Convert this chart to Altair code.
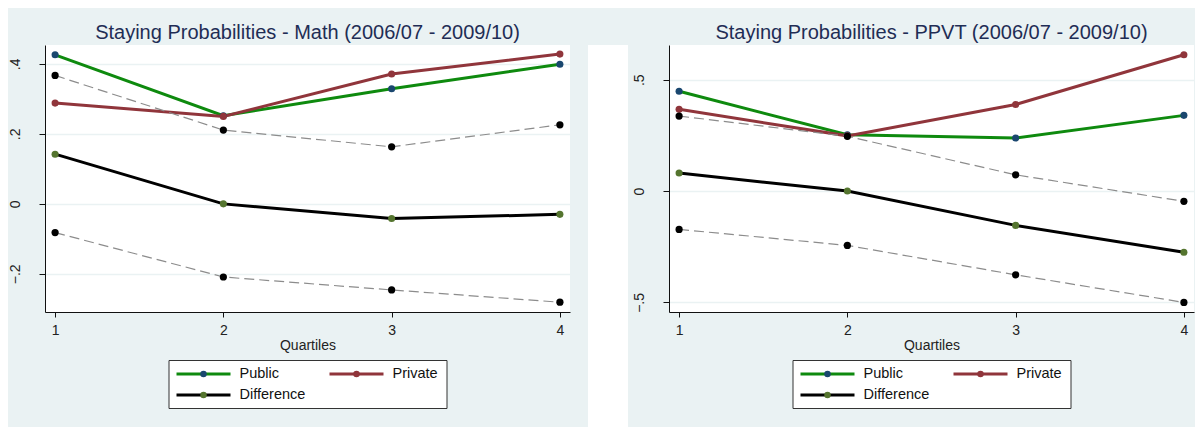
import altair as alt
import pandas as pd

# quartile positions on the x axis
quartiles = [1, 2, 3, 4]
series_names = ["Public", "Private", "Difference"]

# Math panel
math_public = [0.426, 0.252, 0.329, 0.399]
math_private = [0.288, 0.250, 0.371, 0.428]
math_diff = [0.142, 0.000, -0.042, -0.030]
math_upper = [0.367, 0.211, 0.163, 0.226]
math_lower = [-0.082, -0.209, -0.246, -0.281]
math_ticks = [-0.2, 0, 0.2, 0.4]
math_domain = [-0.309, 0.454]

# PPVT panel
ppvt_public = [0.448, 0.253, 0.238, 0.340]
ppvt_private = [0.367, 0.248, 0.389, 0.612]
ppvt_diff = [0.081, 0.000, -0.154, -0.275]
ppvt_upper = [0.337, 0.246, 0.073, -0.046]
ppvt_lower = [-0.172, -0.244, -0.376, -0.500]
ppvt_ticks = [-0.5, 0, 0.5]
ppvt_domain = [-0.543, 0.656]

line_colors = ["#0E8A0E", "#90353B", "#000000"]
marker_colors = ["#1A476F", "#90353B", "#55752F"]
BG = "#EAF2F3"
FONT = "Liberation Sans"

color = alt.Color("Series:N", scale=alt.Scale(domain=series_names, range=line_colors), legend=None)
fill = alt.Fill("Series:N", scale=alt.Scale(domain=series_names, range=marker_colors), legend=None)


def panel(subject, public, private, diff, upper, lower, ticks, domain):
    main = pd.DataFrame({
        "Quartile": quartiles * 3,
        "Series": [s for s in series_names for _ in quartiles],
        "Value": public + private + diff,
    })
    band = pd.DataFrame({
        "Quartile": quartiles * 2,
        "Bound": ["upper"] * len(quartiles) + ["lower"] * len(quartiles),
        "Value": upper + lower,
    })

    x = alt.X("Quartile:Q", title="Quartiles",
              scale=alt.Scale(domain=[0.94, 4.06], nice=False, zero=False),
              axis=alt.Axis(values=quartiles, format="d", grid=False, tickSize=5,
                            labelPadding=6, titlePadding=1))
    y = alt.Y("Value:Q", title=None,
              scale=alt.Scale(domain=domain, nice=False, zero=False),
              axis=alt.Axis(values=ticks, labelAngle=270, tickSize=6, labelPadding=17,
                            labelExpr="replace(format(datum.value, '.1~f'), '0.', '.')",
                            grid=True, gridColor=BG, gridWidth=1.5))

    lines = alt.Chart(main).mark_line(strokeWidth=3).encode(x=x, y=y, color=color)
    points = alt.Chart(main).mark_circle(size=50, opacity=1).encode(x=x, y=y, fill=fill)
    ci_lines = alt.Chart(band).mark_line(strokeWidth=1.2, color="#8C8C8C", strokeDash=[10, 5]).encode(
        x=x, y=y, detail="Bound:N")
    ci_points = alt.Chart(band).mark_circle(size=52, color="black", opacity=1).encode(x=x, y=y)

    plot = alt.layer(lines, points, ci_lines, ci_points).properties(
        width=525,
        height=267,
        title=alt.Title(["", f"Staying Probabilities - {subject} (2006/07 - 2009/10)"],
                        fontSize=20, lineHeight=15, offset=2, color="#1F2D55",
                        fontWeight="normal", anchor="middle", frame="group"),
    )

    # legend box drawn as its own small chart
    legend_df = pd.DataFrame({
        "Series": series_names,
        "col": [i % 2 for i in range(len(series_names))],
        "row": [i // 2 for i in range(len(series_names))],
    })
    lx = alt.X("col:Q", scale=alt.Scale(domain=[0, 1], range=[35, 188]), axis=None)
    ly = alt.Y("row:Q", scale=alt.Scale(domain=[0, 1], range=[14, 35]), axis=None)
    key_lines = alt.Chart(legend_df).mark_tick(orient="horizontal", size=54, thickness=3, opacity=1).encode(
        x=lx, y=ly, color=color)
    key_dots = alt.Chart(legend_df).mark_circle(size=42, opacity=1).encode(x=lx, y=ly, fill=fill)
    key_text = alt.Chart(legend_df).mark_text(align="left", dx=36, fontSize=14.5, color="#111111").encode(
        x=lx, y=ly, text="Series:N")
    legend = alt.layer(key_lines, key_dots, key_text).properties(
        width=278, height=48,
        view=alt.ViewBackground(fill="white", stroke="#333333", strokeWidth=1),
    )

    return alt.vconcat(plot, legend, spacing=48, center=True, bounds="flush")


left = panel("Math", math_public, math_private, math_diff, math_upper, math_lower, math_ticks, math_domain)
right = panel("PPVT", ppvt_public, ppvt_private, ppvt_diff, ppvt_upper, ppvt_lower, ppvt_ticks, ppvt_domain)

# white strip between the two graph regions
spacer = alt.Chart(pd.DataFrame({"v": [0]})).mark_point(opacity=0).encode(
    x=alt.value(0), y=alt.value(0)
).properties(width=40, height=411, view=alt.ViewBackground(fill="white", strokeWidth=0))

chart = alt.hconcat(
    left,
    alt.hconcat(spacer, right, spacing=4),
    spacing=15,
).properties(
    padding={"left": 0, "top": 0, "right": 1, "bottom": 0},
    background=BG,
).configure(
    font=FONT,
).configure_view(
    fill="white",
    strokeWidth=0,
).configure_axis(
    labelFontSize=14,
    titleFontSize=14,
    titleFontWeight="normal",
    labelColor="#222222",
    titleColor="#222222",
    domainColor="#111111",
    tickColor="#111111",
)

chart.save("out.html", embed_options={"renderer": "svg", "actions": False})
